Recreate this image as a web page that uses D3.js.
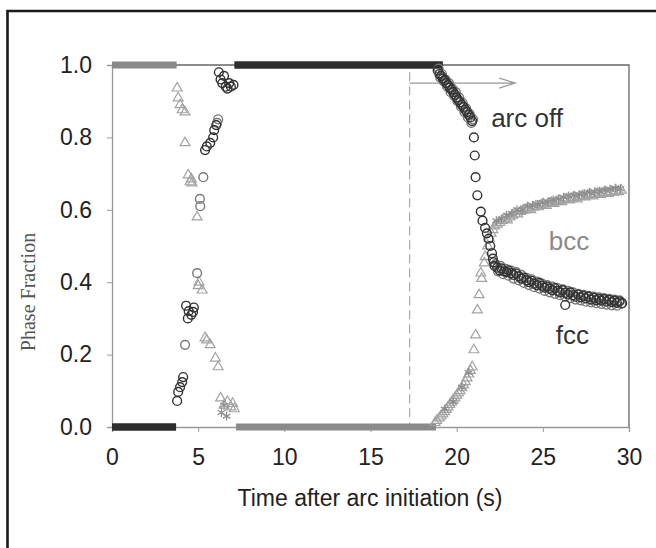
<!DOCTYPE html>
<html><head><meta charset="utf-8">
<script src="https://cdn.jsdelivr.net/npm/d3@7"></script>
<style>body{margin:0;background:#fff}svg{display:block}</style>
</head><body>
<script>
// ---- data ----
const xTicks = [0, 5, 10, 15, 20, 25, 30];
const yTicks = [0.0, 0.2, 0.4, 0.6, 0.8, 1.0];
// plateau segments [t, fraction]
const fccPlateaus = [[[0, 0], [3.72, 0]], [[7.1, 1], [19.2, 1]]];
const bccPlateaus = [[[0, 1], [3.75, 1]], [[7.2, 0], [18.8, 0]]];
// fcc, run A (dark circles)
const fccPoints = [
 [3.78,.072],[3.84,.097],[3.95,.11],[4.07,.124],[4.13,.138],[4.3,.335],[4.4,.30],[4.45,.32],[4.6,.31],[4.75,.33],[4.7,.318],
 [5.4,.765],[5.5,.775],[5.7,.785],[5.87,.80],[5.93,.82],[6.05,.834],
 [6.2,.98],[6.3,.96],[6.4,.95],[6.5,.97],[6.6,.94],[6.7,.935],[6.8,.95],[6.9,.94],[7.05,.945],
 [18.9,.985],[19.0,.975],[19.1,.97],[19.2,.962],[19.3,.958],[19.4,.95],[19.5,.945],[19.6,.937],[19.7,.932],[19.8,.925],[19.9,.918],
 [20.0,.91],[20.1,.903],[20.2,.897],[20.3,.89],[20.4,.884],[20.5,.876],[20.6,.87],[20.7,.862],[20.8,.855],[20.9,.845],
 [21.0,.80],[21.05,.75],[21.1,.69],[21.2,.64],[21.4,.595],[21.5,.57],[21.65,.55],[21.75,.535],[21.85,.52],[21.95,.50],[22.05,.48],[22.1,.465],[22.15,.455],
 [22.2,.445],[22.35,.44],[22.5,.432],[22.6,.438],[22.75,.43],[22.9,.428],[23.0,.433],[23.15,.425],[23.3,.42],[23.45,.424],[23.6,.416],[23.75,.41],
 [23.9,.413],[24.05,.405],[24.2,.40],[24.35,.404],[24.5,.396],[24.65,.392],[24.8,.398],[24.95,.39],[25.1,.385],[25.25,.388],[25.4,.382],[25.55,.378],
 [25.7,.384],[25.85,.376],[26.0,.372],[26.15,.378],[26.3,.337],[26.3,.37],[26.45,.366],[26.6,.372],[26.75,.364],[26.9,.36],[27.05,.366],[27.2,.358],
 [27.35,.362],[27.5,.355],[27.65,.36],[27.8,.352],[27.95,.357],[28.1,.35],[28.25,.354],[28.4,.349],[28.55,.353],[28.7,.346],[28.85,.351],
 [29.0,.345],[29.15,.349],[29.3,.343],[29.45,.347],[29.6,.342]
];
// fcc, run B (grey circles)
const fccPointsB = [
 [4.24,.227],[4.94,.425],[5.1,.63],[5.12,.61],[5.3,.69],[6.16,.85],[6.1,.84],
 [18.95,.99],[19.05,.965],[19.15,.975],[19.25,.955],[19.35,.96],[19.45,.94],[19.55,.95],[19.65,.925],[19.75,.935],[19.85,.915],[19.95,.925],
 [20.05,.90],[20.15,.91],[20.25,.885],[20.35,.895],[20.45,.87],[20.55,.88],[20.65,.855],[20.75,.865],[20.85,.84],[20.95,.85],
 [22.25,.45],[22.4,.43],[22.55,.445],[22.7,.422],[22.85,.437],[23.0,.418],[23.15,.432],[23.3,.41],[23.45,.428],[23.6,.405],[23.75,.42],
 [23.9,.398],[24.05,.412],[24.2,.392],[24.35,.408],[24.5,.386],[24.65,.402],[24.8,.382],[24.95,.396],[25.1,.376],[25.25,.392],[25.4,.372],
 [25.55,.388],[25.7,.368],[25.85,.384],[26.0,.364],[26.15,.38],[26.3,.36],[26.45,.376],[26.6,.356],[26.75,.372],[26.9,.352],[27.05,.368],
 [27.2,.35],[27.35,.365],[27.5,.346],[27.65,.362],[27.8,.344],[27.95,.36],[28.1,.342],[28.25,.358],[28.4,.34],[28.55,.356],[28.7,.338],
 [28.85,.354],[29.0,.336],[29.15,.352],[29.3,.335],[29.45,.35],[29.55,.34]
];
// bcc (triangles)
const bccPoints = [
 [3.78,.936],[3.84,.909],[3.95,.89],[4.07,.876],[4.24,.87],[4.24,.785],[4.42,.696],[4.53,.677],[4.65,.674],[4.6,.685],[4.94,.58],
 [5.0,.39],[5.23,.378],[5.05,.40],[5.4,.246],[5.5,.24],[5.7,.227],[6.0,.19],[6.16,.166],[6.3,.08],[6.5,.06],[6.7,.07],[6.9,.055],[7.0,.065],[7.1,.05],
 [18.75,.012],[18.85,.018],[19.0,.025],[19.1,.03],[19.2,.036],[19.3,.042],[19.4,.048],[19.5,.055],[19.6,.062],[19.7,.068],[19.8,.074],[19.9,.08],
 [20.0,.087],[20.1,.094],[20.2,.10],[20.3,.108],[20.4,.116],[20.5,.125],[20.6,.135],[20.7,.146],[20.8,.156],[20.9,.166],
 [21.0,.213],[21.1,.254],[21.2,.323],[21.3,.365],[21.45,.41],[21.4,.425],[21.6,.453],[21.65,.47],[21.8,.50],[21.9,.52],[22.0,.535],[22.1,.545],
 [22.2,.555],[22.35,.56],[22.5,.565],[22.65,.57],[22.8,.575],[22.95,.572],[23.1,.58],[23.25,.585],[23.4,.59],[23.55,.588],[23.7,.595],[23.85,.598],
 [24.0,.60],[24.15,.604],[24.3,.60],[24.45,.607],[24.6,.61],[24.75,.608],[24.9,.613],[25.05,.615],[25.2,.612],[25.35,.618],[25.5,.62],[25.65,.617],
 [25.8,.622],[25.95,.625],[26.1,.622],[26.25,.628],[26.4,.63],[26.55,.627],[26.7,.632],[26.85,.634],[27.0,.63],[27.15,.636],[27.3,.638],[27.45,.635],
 [27.6,.64],[27.75,.642],[27.9,.638],[28.05,.643],[28.2,.645],[28.35,.642],[28.5,.646],[28.65,.648],[28.8,.645],[28.95,.65],[29.1,.648],[29.25,.652],
 [29.4,.65],[29.55,.654]
];
// bcc, second run (asterisks)
const bccStarPoints = [
 [6.35,.04],[6.5,.06],[6.65,.03],[19.3,.05],[19.8,.07],[20.3,.11],[20.7,.15],
 [22.3,.57],[22.6,.575],[22.9,.585],[23.2,.59],[23.5,.60],[23.8,.60],[24.1,.61],[24.4,.612],[24.7,.615],[25.0,.62],[25.3,.622],[25.6,.627],
 [25.9,.63],[26.2,.635],[26.5,.638],[26.8,.64],[27.1,.642],[27.4,.645],[27.7,.648],[28.0,.65],[28.3,.652],[28.6,.655],[28.9,.657],[29.2,.66],[29.5,.658]
];
const arcOffTime = 17.27;
const arrowEnd = 23.4;
const arrowLevel = 0.95;
const labels = [{text:"arc off", t:22.0, v:0.83, color:"#333"}, {text:"bcc", t:25.35, v:0.49, color:"#8a8a8a"}, {text:"fcc", t:25.75, v:0.23, color:"#333"}];

// ---- chart ----
const W = 656, H = 548;
const svg = d3.select("body").append("svg").attr("width", W).attr("height", H);
const x = d3.scaleLinear().domain([0, 30]).range([112, 629]);
const y = d3.scaleLinear().domain([0, 1]).range([427, 65]);
const sans = "'Liberation Sans', Arial, sans-serif";

// outer frame
svg.append("path").attr("d", `M7.5,${H} V11 H${W}`).attr("fill", "none").attr("stroke", "#1a1a1a").attr("stroke-width", 2.6);

// plot border (top at 1.0, right)
svg.append("path").attr("d", `M${x(0)},${y(1)} H${x(30)} V${y(0)}`).attr("fill", "none").attr("stroke", "#666").attr("stroke-width", 1.3);

// axes
const xAxis = d3.axisBottom(x).tickValues(xTicks).tickSize(5).tickFormat(d3.format("d"));
const gx = svg.append("g").attr("transform", `translate(0,${y(0)})`).call(xAxis);
gx.select(".domain").attr("stroke", "#999").attr("stroke-width", 1.3);
gx.selectAll(".tick line").attr("stroke", "#999");
gx.selectAll("text").attr("font-family", sans).attr("font-size", 23).attr("fill", "#222").attr("dy", "0").attr("y", 38);

const yAxis = d3.axisLeft(y).tickValues(yTicks).tickSize(5).tickFormat(d3.format(".1f"));
const gy = svg.append("g").attr("transform", `translate(${x(0)},0)`).call(yAxis);
gy.select(".domain").attr("stroke", "#999").attr("stroke-width", 1.3);
gy.selectAll(".tick line").attr("stroke", "#999");
gy.selectAll("text").attr("font-family", sans).attr("font-size", 23).attr("fill", "#222").attr("x", -20);

// axis titles
svg.append("text").attr("x", 370).attr("y", 506).attr("text-anchor", "middle")
  .attr("font-family", sans).attr("font-size", 23).attr("fill", "#222").text("Time after arc initiation (s)");
svg.append("text").attr("transform", "translate(35,292) rotate(-90)").attr("text-anchor", "middle")
  .attr("font-family", "'Liberation Serif', 'Times New Roman', serif").attr("font-size", 20).attr("fill", "#555").text("Phase Fraction");

// arc-off marker
svg.append("line").attr("x1", x(arcOffTime)).attr("x2", x(arcOffTime)).attr("y1", y(0.98)).attr("y2", y(0))
  .attr("stroke", "#aaa").attr("stroke-width", 1.2).attr("stroke-dasharray", "9,5");
const ax0 = x(arcOffTime), ax1 = x(arrowEnd), ay = y(arrowLevel);
svg.append("path").attr("d", `M${ax0},${ay} H${ax1} M${ax1-16},${ay-5} L${ax1},${ay} L${ax1-16},${ay+5}`)
  .attr("fill", "none").attr("stroke", "#999").attr("stroke-width", 1.2);

// plateaus
const line = d3.line().x(d => x(d[0])).y(d => y(d[1]));
bccPlateaus.forEach(seg => svg.append("path").attr("d", line(seg)).attr("stroke", "#8a8a8a").attr("stroke-width", 7).attr("fill", "none"));
fccPlateaus.forEach(seg => svg.append("path").attr("d", line(seg)).attr("stroke", "#2e2e2e").attr("stroke-width", 7.5).attr("fill", "none"));

// markers
const tri = d3.symbol().type(d3.symbolTriangle).size(42);
svg.append("g").selectAll("path").data(bccPoints).join("path")
  .attr("d", tri).attr("transform", d => `translate(${x(d[0])},${y(d[1])})`)
  .attr("fill", "none").attr("stroke", "#a3a3a3").attr("stroke-width", 1.2);
const star = d3.symbol().type(d3.symbolAsterisk).size(55);
svg.append("g").selectAll("path").data(bccStarPoints).join("path")
  .attr("d", star).attr("transform", d => `translate(${x(d[0])},${y(d[1])})`)
  .attr("fill", "none").attr("stroke", "#8c8c8c").attr("stroke-width", 1.2);
svg.append("g").selectAll("circle").data(fccPointsB).join("circle")
  .attr("cx", d => x(d[0])).attr("cy", d => y(d[1])).attr("r", 4.4)
  .attr("fill", "none").attr("stroke", "#777").attr("stroke-width", 1.4);
svg.append("g").selectAll("circle").data(fccPoints).join("circle")
  .attr("cx", d => x(d[0])).attr("cy", d => y(d[1])).attr("r", 4.4)
  .attr("fill", "none").attr("stroke", "#333").attr("stroke-width", 1.4);

// annotations
svg.append("g").selectAll("text").data(labels).join("text")
  .attr("x", d => x(d.t)).attr("y", d => y(d.v)).attr("font-family", sans).attr("font-size", 26)
  .attr("fill", d => d.color).text(d => d.text);
</script>
</body></html>
